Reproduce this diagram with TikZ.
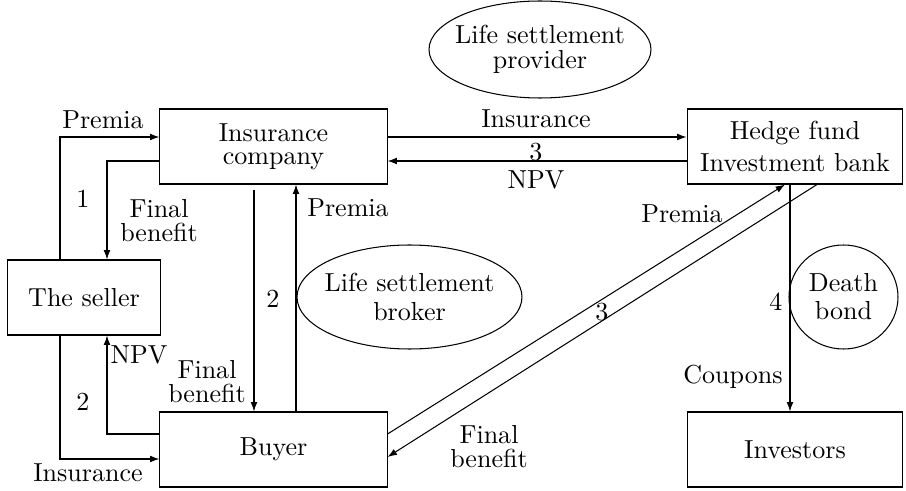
\documentclass[tikz,border=0pt]{standalone}
\usetikzlibrary{arrows.meta,calc,shapes.geometric}
\begin{document}
\begin{tikzpicture}[x=0.384pt,y=-0.384pt,
  box/.style={draw,rectangle,inner sep=0pt,align=center,minimum height=28.8pt},
  oval/.style={inner sep=0pt,align=center},
  lbl/.style={inner sep=0pt,align=center},
  flow/.style={-{Latex[length=3.6pt,width=2.6pt]}},
  line width=0.4pt]
\useasboundingbox (0,0) rectangle (906,491);
% boxes
\node[box,minimum width=87.2pt] (ins) at (273.5,146.5) {Insurance\\[-3.2pt]company};
\node[box,minimum width=58.4pt] (seller) at (84,297.5) {The seller};
\node[box,minimum width=87.2pt] (buyer) at (273.5,449.5) {Buyer};
\node[box,minimum width=82.9pt] (hedge) at (795,146.5) {Hedge fund\\Investment bank};
\node[box,minimum width=82.9pt] (inv) at (795,449.5) {Investors};
% ovals
\node[oval] (prov) at (540,49.5) {Life settlement\\[-2.4pt]provider};
\draw (prov.center) ellipse [x radius=111, y radius=48.5];
\node[oval] (broker) at (409.5,297) {Life settlement\\[-1.2pt]broker};
\draw (broker.center) ellipse [x radius=112.5, y radius=52];
\node[oval] (death) at (843.5,297) {Death\\[-1.2pt]bond};
\draw (death.center) ellipse [x radius=54.5, y radius=52];
% left connectors
\draw[flow] ($(seller.north)+(-24,0)$) |- ($(ins.west)+(0,-9.5)$);
\draw[flow] ($(ins.west)+(0,14.5)$) -| ($(seller.north)+(23,0)$);
\draw[flow] ($(seller.south)+(-24,0)$) |- ($(buyer.west)+(0,9.5)$);
\draw[flow] ($(buyer.west)+(0,-15.5)$) -| ($(seller.south)+(23,0)$);
% vertical centre connectors
\draw[flow] ($(ins.south)+(-19.5,5)$) -- ($(buyer.north)+(-19.5,0)$);
\draw[flow] ($(buyer.north)+(22.5,0)$) -- ($(ins.south)+(22.5,0)$);
% top horizontal connectors
\draw[flow] ($(ins.east)+(0,-9.5)$) -- ($(hedge.west)+(0,-9.5)$);
\draw[flow] ($(hedge.west)+(0,14.5)$) -- ($(ins.east)+(0,14.5)$);
% diagonals
\draw[flow] ($(buyer.east)+(0,-15.5)$) -- ($(hedge.south)+(-10,0)$);
\draw[flow] ($(hedge.south)+(22,0)$) -- ($(buyer.east)+(0,7.5)$);
% coupons
\draw[flow] ($(hedge.south)+(-5,0)$) -- ($(inv.north)+(-5,0)$);
% labels
\node[lbl] (l1) at (103,120) {Premia};
\node[lbl] (l2) at (83,199) {1};
\node[lbl] (l3) at (159,221) {Final\\[-2.8pt]benefit};
\node[lbl] (l4) at (348,208) {Premia};
\node[lbl] (l5) at (139,355) {NPV};
\node[lbl] (l6) at (83,402) {2};
\node[lbl] (l7) at (207,382) {Final\\[-2.8pt]benefit};
\node[lbl] (l8) at (88,473) {Insurance};
\node[lbl] (l9) at (273,299) {2};
\node[lbl] (l10) at (536,119) {Insurance};
\node[lbl] (l11) at (536,152) {3};
\node[lbl] (l12) at (536,180) {NPV};
\node[lbl] (l13) at (682,214) {Premia};
\node[lbl] (l14) at (602,312) {3};
\node[lbl] (l15) at (489,447) {Final\\[-2.8pt]benefit};
\node[lbl] (l16) at (776,302) {4};
\node[lbl] (l17) at (733,377) {Coupons};
\end{tikzpicture}
\end{document}
